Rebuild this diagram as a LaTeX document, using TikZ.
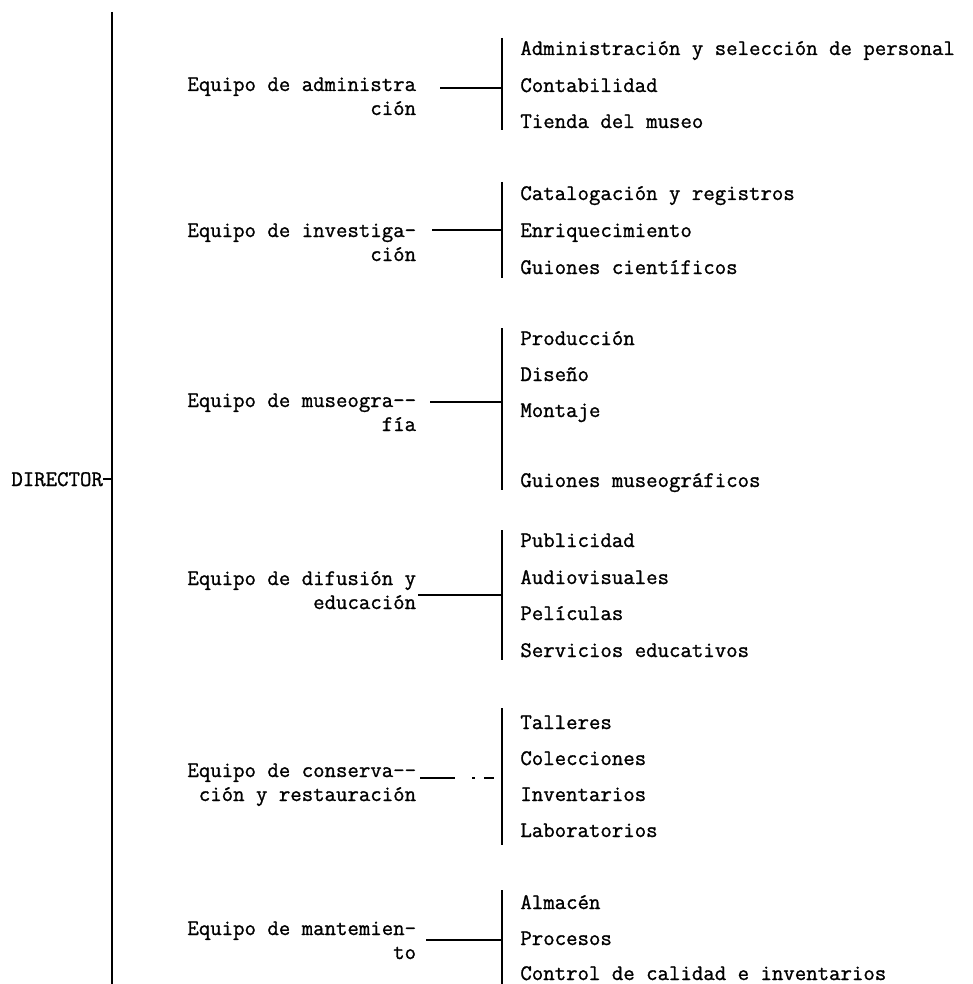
\documentclass[tikz,border=0pt]{standalone}
\usepackage{fontspec}
\usetikzlibrary{calc}

\newfontfamily\typew{Latin Modern Mono}[FakeBold=1.1]

\tikzset{
  txt/.style={font=\typew\fontsize{11.1pt}{12pt}\selectfont, inner sep=0pt},
  team/.style={txt, anchor=base west},
  teamx/.style={txt, anchor=base east},
  item/.style={txt, anchor=base west},
  rule/.style={line width=1pt},
  spine/.style={line width=1.2pt},
}

\begin{document}
\begin{tikzpicture}[x=0.5pt, y=-0.5pt]
  \useasboundingbox (0,0) rectangle (973,984);
  % director
  \coordinate (top) at (112,12);
  \coordinate (bot) at (112,984);
  \draw[spine] (top) -- (bot);
  \node[txt, anchor=base west] (director) at (11,486) {DIRECTOR};
  \draw[rule] (director.east) -- (director.east -| top);

  % administracion
  \node[team] (adm) at (187,91) {Equipo de administra};
  \node[teamx] (admx) at ($(adm.base east)+(0,24)$) {ción};
  \coordinate (admT) at (502,38);
  \coordinate (admB) at (502,130);
  \coordinate (admJ) at (502,88);
  \draw[rule] (admT) -- (admB);
  \draw[rule] ([xshift=12pt]adm.base east |- admJ) -- (admJ);
  \node[item] (a1) at (520,55) {Administración y selección de personal};
  \node[item] (a2) at (520,92) {Contabilidad};
  \node[item] (a3) at (520,128) {Tienda del museo};

  % investigacion
  \node[team] (inv) at (187,237) {Equipo de investiga-};
  \node[teamx] (invx) at ($(inv.base east)+(0,24)$) {ción};
  \coordinate (invT) at (502,182);
  \coordinate (invB) at (502,278);
  \coordinate (invJ) at (502,230);
  \draw[rule] (invT) -- (invB);
  \draw[rule] ([xshift=8pt]inv.base east |- invJ) -- (invJ);
  \node[item] (n1) at (520,200) {Catalogación y registros};
  \node[item] (n2) at (520,237) {Enriquecimiento};
  \node[item] (n3) at (520,274) {Guiones científicos};

  % museografia
  \node[team] (mus) at (187,407) {Equipo de museogra--};
  \node[teamx] (musx) at ($(mus.base east)+(0,24)$) {fía};
  \coordinate (musT) at (502,328);
  \coordinate (musB) at (502,490);
  \coordinate (musJ) at (502,402);
  \draw[rule] (musT) -- (musB);
  \draw[rule] ([xshift=7pt]mus.base east |- musJ) -- (musJ);
  \node[item] (m1) at (520,345) {Producción};
  \node[item] (m2) at (520,381) {Diseño};
  \node[item] (m3) at (520,417) {Montaje};
  \node[item] (m4) at (520,487) {Guiones museográficos};

  % difusion
  \node[team] (dif) at (187,585) {Equipo de difusión y};
  \node[teamx] (difx) at ($(dif.base east)+(0,24)$) {educación};
  \coordinate (difT) at (502,530);
  \coordinate (difB) at (502,660);
  \coordinate (difJ) at (502,595);
  \draw[rule] (difT) -- (difB);
  \draw[rule] ([xshift=1pt]dif.base east |- difJ) -- (difJ);
  \node[item] (d1) at (520,547) {Publicidad};
  \node[item] (d2) at (520,584) {Audiovisuales};
  \node[item] (d3) at (520,620) {Películas};
  \node[item] (d4) at (520,657) {Servicios educativos};

  % conservacion
  \node[team] (con) at (187,777) {Equipo de conserva--};
  \node[teamx] (conx) at ($(con.base east)+(0,24)$) {ción y restauración};
  \coordinate (conT) at (502,708);
  \coordinate (conB) at (502,845);
  \coordinate (conJ) at (502,778);
  \draw[rule] (conT) -- (conB);
  \draw[rule, dash pattern={on 17.5pt off 8.5pt on 1.5pt off 4.5pt on 5pt off 10pt}]
    ([xshift=2pt]con.base east |- conJ) -- (conJ);
  \node[item] (c1) at (520,729) {Talleres};
  \node[item] (c2) at (520,765) {Colecciones};
  \node[item] (c3) at (520,801) {Inventarios};
  \node[item] (c4) at (520,837) {Laboratorios};

  % mantenimiento
  \node[team] (man) at (187,935) {Equipo de mantemien-};
  \node[teamx] (manx) at ($(man.base east)+(0,24)$) {to};
  \coordinate (manT) at (502,890);
  \coordinate (manB) at (502,984);
  \coordinate (manJ) at (502,940);
  \draw[rule] (manT) -- (manB);
  \draw[rule] ([xshift=5pt]man.base east |- manJ) -- (manJ);
  \node[item] (k1) at (520,909) {Almacén};
  \node[item] (k2) at (520,945) {Procesos};
  \node[item] (k3) at (520,980) {Control de calidad e inventarios};
\end{tikzpicture}
\end{document}
